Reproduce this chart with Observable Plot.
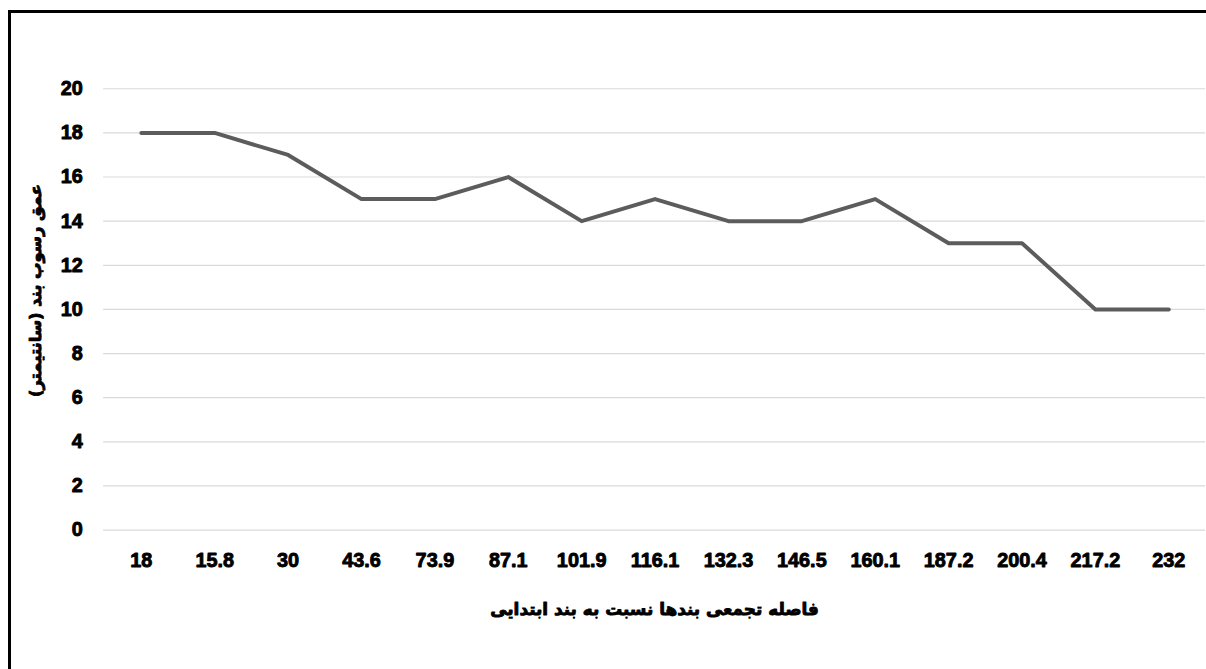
<!DOCTYPE html>
<html>
<head>
<meta charset="utf-8">
<script src="https://cdn.jsdelivr.net/npm/d3@7"></script>
<script src="https://cdn.jsdelivr.net/npm/@observablehq/plot@0.6"></script>
<style>
  html, body { margin: 0; padding: 0; background: #fff; overflow: hidden; width: 1206px; height: 669px; }
  #frame { position: absolute; left: 8px; top: 10px; width: 1400px; height: 900px; border: 3px solid #000; box-sizing: border-box; }
  #chart { position: absolute; left: 0; top: 0; }
  #chart svg text { stroke: #000; stroke-width: 0.9px; stroke-linejoin: round; }
</style>
</head>
<body>
<div id="frame"></div>
<div id="chart"></div>
<script>
const categories = ["18", "15.8", "30", "43.6", "73.9", "87.1", "101.9", "116.1", "132.3", "146.5", "160.1", "187.2", "200.4", "217.2", "232"];
const depths = [18, 18, 17, 15, 15, 16, 14, 15, 14, 14, 15, 13, 13, 10, 10];
const yTicks = [0, 2, 4, 6, 8, 10, 12, 14, 16, 18, 20];
const xTitle = "فاصله تجمعی بندها نسبت به بند ابتدایی";
const yTitle = "عمق رسوب بند (سانتیمتر)";

const data = categories.map((c, i) => ({cat: c, depth: depths[i]}));
const font = "'Liberation Sans', Arial, sans-serif";
const arabicFont = "'DejaVu Sans', sans-serif";

const chart = Plot.plot({
  width: 1216,
  height: 669,
  marginLeft: 104,
  marginRight: 1,
  marginTop: 89,
  marginBottom: 135,
  style: {fontFamily: font, fontWeight: "bold", fontSize: "20px", color: "#000", background: "transparent"},
  x: {type: "band", domain: categories, padding: 0},
  y: {domain: [0, 20], ticks: yTicks},
  marks: [
    Plot.gridY(yTicks, {stroke: "#d9d9d9", strokeOpacity: 1, strokeWidth: 1.2}),
    Plot.axisY(yTicks, {tickSize: 0, tickPadding: 21, label: null, fontSize: 20, fontWeight: "bold", fill: "#000"}),
    Plot.axisX({tickSize: 0, tickPadding: 23, label: null, fontSize: 20, fontWeight: "bold", fill: "#000"}),
    Plot.line(data, {x: "cat", y: "depth", stroke: "#5c5c5c", strokeWidth: 4, strokeLinejoin: "round", strokeLinecap: "round"}),
    Plot.axisX({ticks: [], tickSize: 0, label: xTitle, labelAnchor: "center", labelArrow: "none", labelOffset: 86, fontSize: 17, fontWeight: "bold", fill: "#000", fontFamily: arabicFont}),
    Plot.text([yTitle], {frameAnchor: "left", textAnchor: "middle", rotate: -90, dx: -68, dy: -19, fontSize: 16.5, fontWeight: "bold", fill: "#000", fontFamily: arabicFont})
  ]
});
document.getElementById("chart").appendChild(chart);
</script>
</body>
</html>
